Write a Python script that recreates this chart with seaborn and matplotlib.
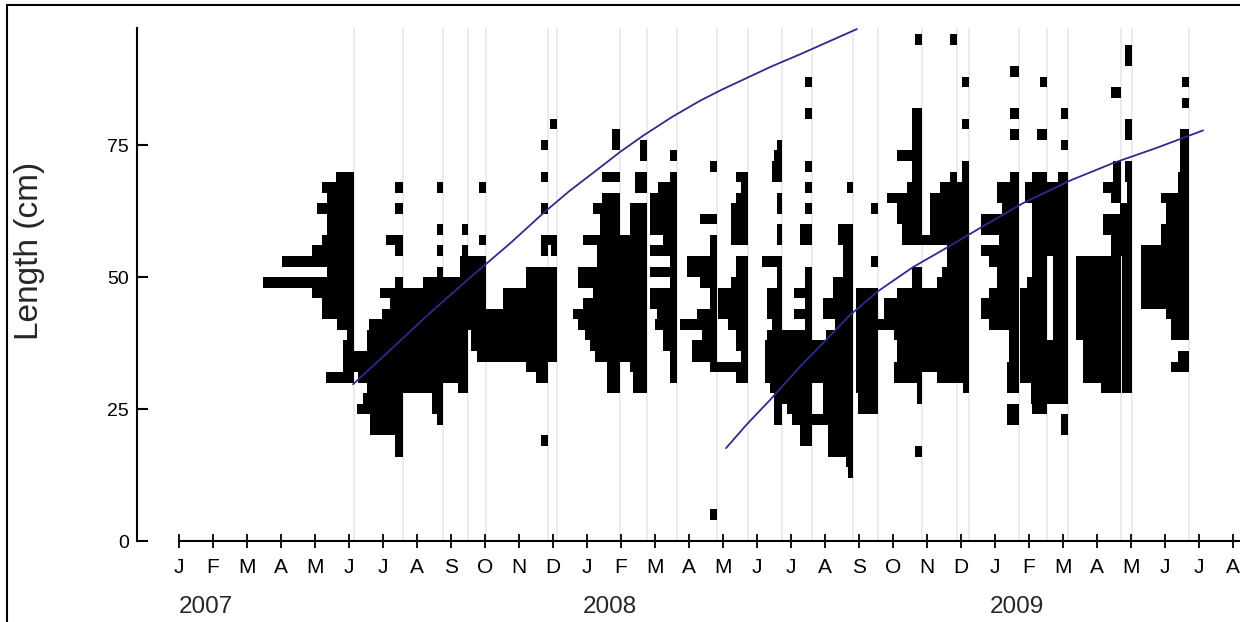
import pandas as pd
import seaborn as sns
import matplotlib.pyplot as plt
from matplotlib.patches import Rectangle
from matplotlib.transforms import blended_transform_factory

sns.set_theme(style="white")
plt.rcParams['font.family'] = ['Liberation Sans', 'DejaVu Sans']

# sampling dates, in months since 1 Jan 2007
sample_month = [5.15, 6.59, 7.76, 8.50, 9.03, 10.85, 11.12, 12.97, 13.76, 14.65,
                15.82, 16.74, 17.74, 18.62, 19.82, 20.56, 21.85, 22.88, 23.24,
                24.71, 25.53, 26.15, 27.71, 28.03, 29.71]

# length classes (2 cm, class mid -> relative frequency) for each sample
s01 = {69: 18, 67: 32, 65: 27, 63: 37, 61: 27, 59: 27, 57: 32, 55: 42, 53: 72, 51: 27,
       49: 91, 47: 42, 45: 32, 43: 32, 41: 17, 39: 7, 37: 11, 35: 11, 33: 11, 31: 28}
s02 = {67: 8, 63: 8, 57: 17, 55: 8, 49: 8, 47: 23, 45: 13, 43: 21, 41: 34, 39: 36, 37: 36,
       35: 49, 33: 49, 31: 45, 29: 36, 27: 40, 25: 46, 23: 33, 21: 33, 19: 8, 17: 8}
s03 = {67: 6, 59: 6, 55: 6, 51: 6, 49: 20, 47: 40, 45: 40, 43: 40, 41: 40, 39: 40, 37: 40,
       35: 40, 33: 40, 31: 40, 29: 40, 27: 11, 25: 11, 23: 6}
s04 = {59: 6, 55: 6, 49: 45, 47: 40, 45: 40, 43: 40, 41: 40, 39: 40, 37: 40, 35: 40,
       33: 25, 31: 25, 29: 10}
s05 = {67: 7, 57: 7, 53: 26, 51: 26, 49: 26, 47: 26, 45: 26, 43: 20, 41: 20, 39: 15,
       37: 15, 35: 9}
s06 = {75: 7, 69: 7, 63: 7, 57: 7, 55: 7, 51: 22, 49: 22, 47: 45, 45: 45, 43: 62, 41: 62,
       39: 62, 37: 62, 35: 62, 33: 22, 31: 12, 19: 7}
s07 = {79: 7, 57: 16, 55: 6, 51: 30, 49: 30, 47: 30, 45: 30, 43: 20, 41: 20, 39: 20,
       37: 20, 35: 20}
s08 = {77: 8, 75: 8, 69: 18, 65: 18, 63: 27, 61: 20, 59: 20, 57: 37, 55: 23, 53: 23,
       51: 42, 49: 42, 47: 27, 45: 37, 43: 47, 41: 42, 39: 35, 37: 30, 35: 25, 33: 13,
       31: 13, 29: 13}
s09 = {75: 7, 73: 7, 69: 12, 67: 12, 63: 17, 61: 17, 59: 17, 57: 27, 55: 27, 53: 27,
       51: 27, 49: 27, 47: 27, 45: 27, 43: 27, 41: 27, 39: 27, 37: 27, 35: 27, 33: 17,
       31: 14, 29: 14}
s10 = {73: 7, 69: 7, 67: 19, 65: 27, 63: 27, 61: 27, 59: 27, 57: 14, 55: 27, 53: 7,
       51: 27, 49: 7, 47: 27, 45: 27, 43: 20, 41: 22, 39: 14, 37: 14, 35: 7, 33: 7, 31: 7}
s11 = {71: 7, 61: 17, 57: 7, 55: 7, 53: 30, 51: 30, 49: 17, 47: 7, 45: 7, 43: 20,
       41: 37, 39: 15, 37: 25, 35: 25, 33: 7, 5: 7}
s12 = {69: 12, 67: 7, 65: 12, 63: 17, 61: 17, 59: 17, 57: 17, 53: 12, 51: 12, 49: 17,
       47: 30, 45: 30, 43: 30, 41: 20, 39: 12, 37: 12, 35: 7, 33: 38, 31: 12}
s13 = {75: 5, 73: 8, 71: 10, 69: 10, 65: 5, 63: 5, 59: 5, 57: 5, 53: 20, 51: 5, 49: 5,
       47: 15, 45: 15, 43: 15, 41: 10, 39: 12, 37: 17, 35: 17, 33: 17, 31: 17, 29: 12,
       27: 8, 25: 8, 23: 8}
s14 = {87: 7, 81: 7, 71: 7, 67: 7, 63: 7, 59: 12, 57: 12, 51: 7, 49: 7, 47: 18, 45: 7,
       43: 18, 41: 7, 39: 45, 37: 45, 35: 45, 33: 37, 31: 37, 29: 37, 27: 37, 25: 25,
       23: 20, 21: 12, 19: 12}
s15 = {67: 6, 59: 15, 57: 15, 55: 10, 53: 10, 51: 10, 49: 20, 47: 20, 45: 30, 43: 30,
       41: 18, 39: 27, 37: 42, 35: 42, 33: 42, 31: 42, 29: 30, 27: 30, 25: 30, 23: 42,
       21: 25, 19: 25, 17: 25, 15: 7, 13: 5}
s16 = {63: 7, 53: 7, 47: 22, 45: 22, 43: 22, 41: 22, 39: 22, 37: 22, 35: 22, 33: 22,
       31: 22, 29: 22, 27: 20, 25: 20}
s17 = {95: 7, 81: 10, 79: 10, 77: 10, 75: 10, 73: 25, 71: 10, 69: 10, 67: 15, 65: 35,
       63: 25, 61: 25, 59: 20, 57: 20, 51: 10, 49: 10, 47: 25, 45: 38, 43: 38, 41: 50,
       39: 28, 37: 25, 35: 25, 33: 28, 31: 28, 29: 5, 27: 5, 17: 7}
s18 = {95: 7, 69: 7, 67: 17, 65: 27, 63: 27, 61: 27, 59: 27, 57: 45, 55: 10, 53: 10,
       51: 15, 49: 20, 47: 35, 45: 35, 43: 35, 41: 35, 39: 35, 37: 35, 35: 35, 33: 35,
       31: 20}
s19 = {87: 7, 79: 7, 71: 7, 69: 7, 67: 12, 65: 12, 63: 12, 61: 12, 59: 12, 57: 12,
       55: 12, 53: 12, 51: 12, 49: 12, 47: 12, 45: 12, 43: 12, 41: 12, 39: 12, 37: 12,
       35: 12, 33: 12, 31: 12, 29: 6}
s20 = {89: 9, 81: 9, 77: 9, 69: 9, 67: 22, 65: 22, 63: 17, 61: 38, 59: 38, 57: 20,
       55: 38, 53: 30, 51: 22, 49: 22, 47: 30, 45: 38, 43: 38, 41: 30, 39: 10, 37: 10,
       35: 10, 33: 12, 31: 12, 29: 12, 25: 12, 23: 12}
s21 = {87: 7, 77: 10, 69: 15, 67: 22, 65: 22, 63: 15, 61: 15, 59: 15, 57: 15, 55: 15,
       53: 15, 51: 15, 49: 20, 47: 27, 45: 27, 43: 27, 41: 27, 39: 27, 37: 27, 35: 27,
       33: 27, 31: 27, 29: 15, 27: 15, 25: 15}
s22 = {81: 7, 75: 7, 69: 10, 67: 22, 65: 22, 63: 22, 61: 22, 59: 22, 57: 22, 55: 22,
       53: 15, 51: 15, 49: 15, 47: 15, 45: 15, 43: 15, 41: 15, 39: 15, 37: 37, 35: 37,
       33: 37, 31: 37, 29: 37, 27: 37, 23: 7, 21: 7}
s23 = {85: 10, 71: 8, 69: 8, 67: 18, 65: 10, 61: 18, 59: 18, 57: 10, 55: 10, 53: 45,
       51: 45, 49: 45, 47: 45, 45: 45, 43: 45, 41: 45, 39: 45, 37: 38, 35: 38, 33: 38,
       31: 38, 29: 20}
s24 = {93: 7, 91: 7, 79: 7, 77: 7, 71: 7, 69: 7, 67: 5, 65: 5, 63: 12, 61: 12, 59: 12,
       57: 12, 55: 12, 53: 10, 51: 10, 49: 10, 47: 10, 45: 10, 43: 10, 41: 10, 39: 10,
       37: 10, 35: 10, 33: 10, 31: 10, 29: 10}
s25 = {87: 7, 83: 7, 77: 9, 75: 9, 73: 9, 71: 9, 69: 11, 67: 11, 65: 28, 63: 23, 61: 23,
       59: 28, 57: 28, 55: 48, 53: 48, 51: 48, 49: 48, 47: 48, 45: 48, 43: 23, 41: 18,
       39: 18, 35: 11, 33: 18}
samples = [s01, s02, s03, s04, s05, s06, s07, s08, s09, s10, s11, s12, s13, s14, s15,
           s16, s17, s18, s19, s20, s21, s22, s23, s24, s25]

# growth curves (months since Jan 2007, length cm)
curve1_month = [5.12, 6.25, 7.38, 8.56, 9.74, 10.71, 11.50, 12.29, 12.97, 13.65,
                14.49, 15.32, 15.96, 16.59, 17.42, 18.26, 19.10, 19.94]
curve1_length = [29.7, 36.4, 43.2, 49.9, 56.4, 62.1, 66.4, 70.3, 73.7, 76.8,
                 80.3, 83.4, 85.5, 87.4, 89.9, 92.2, 94.6, 97.0]
curve2_month = [16.09, 16.70, 17.38, 18.26, 18.94, 19.70, 20.53, 21.59, 22.59, 23.56,
                24.82, 26.21, 27.47, 28.76, 30.12]
curve2_length = [17.6, 22.1, 26.7, 33.0, 37.5, 42.6, 47.2, 51.9, 55.6, 59.3,
                 64.0, 68.3, 71.6, 74.5, 77.8]

month_letters = list("JFMAMJJASOND")
tick_labels = month_letters * 2 + month_letters[:8]
year_labels = ["2007", "2008", "2009"]

rows = []
for m, s in zip(sample_month, samples):
    for mid, f in s.items():
        rows.append((m, mid, f))
df = pd.DataFrame(rows, columns=["month", "mid", "freq"])
df["w"] = df["freq"] / 34.0

fig = plt.figure(figsize=(12.4, 6.22), dpi=100)
ax = fig.add_axes([137 / 1240, 1 - 541 / 622, 1 - 137 / 1240, 513 / 622])
ytop = 97.2

ax.vlines(sample_month, 0, ytop, color="#ece8ee", lw=1.3, zorder=0)
ax.barh(df["mid"], df["w"], left=df["month"] - df["w"], height=2,
        color="black", linewidth=0, zorder=2)
sns.lineplot(x=curve1_month, y=curve1_length, ax=ax, color="#2c2c8c", lw=1.3,
             sort=False, estimator=None, zorder=3)
sns.lineplot(x=curve2_month, y=curve2_length, ax=ax, color="#2c2c8c", lw=1.3,
             sort=False, estimator=None, zorder=3)

xmax = (1240 - 179) / 34
ax.set_xlim(-42 / 34, xmax)
ax.set_ylim(0, ytop)
for side in ["top", "right"]:
    ax.spines[side].set_visible(False)
for side in ["left", "bottom"]:
    ax.spines[side].set_color("black")
    ax.spines[side].set_linewidth(1.5)
ax.spines["bottom"].set_bounds(0, xmax)

ax.set_yticks([0, 25, 50, 75])
ax.tick_params(axis="y", left=True, direction="in", length=8, width=1.5, pad=6,
               labelsize=14, colors="black")
ax.set_xticks(range(len(tick_labels)))
ax.set_xticklabels(tick_labels)
ax.tick_params(axis="x", bottom=True, direction="inout", length=10, width=1.3, pad=7,
               labelsize=15, colors="black")
ax.set_xlabel("")
ax.set_ylabel("")

trans = blended_transform_factory(ax.transData, ax.transAxes)
for pos, lab in zip([0.0, 11.88, 23.85], year_labels):
    ax.text(pos, -0.129, lab, transform=trans, ha="left", va="center", fontsize=17.5)

fig.text(30 / 1240, 1 - 251 / 622, "Length (cm)", rotation=90, ha="center",
         va="center", fontsize=24)
fig.add_artist(Rectangle((7 / 1240, -0.1), 1.2, 1.1 - 5 / 622, transform=fig.transFigure,
                         fill=False, ec="black", lw=1.5))

fig.savefig("out.png", dpi=100)
